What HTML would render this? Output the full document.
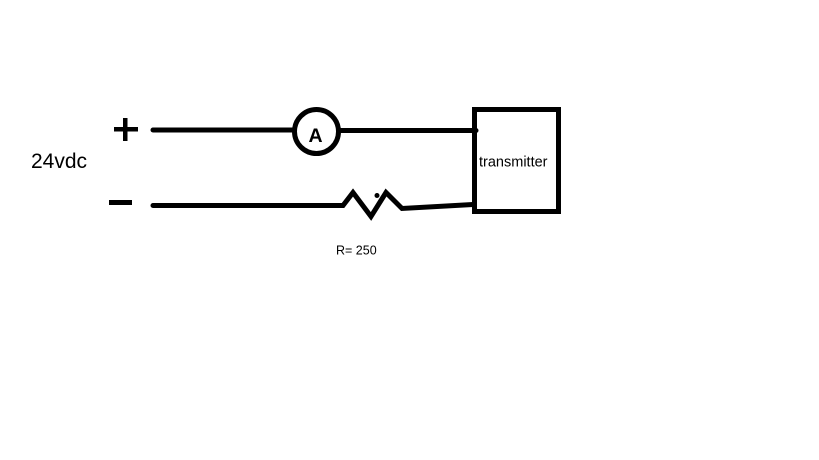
<!DOCTYPE html>
<html>
<head>
<meta charset="utf-8">
<style>
  html, body { margin: 0; padding: 0; background: #fff; }
  body { width: 819px; height: 460px; overflow: hidden; }
  svg { display: block; }
  text { font-family: "Liberation Sans", sans-serif; fill: #000; }
</style>
</head>
<body>
<svg width="819" height="460" viewBox="0 0 819 460" xmlns="http://www.w3.org/2000/svg">
  <rect width="819" height="460" fill="#fff"/>
  <!-- plus sign -->
  <rect x="114" y="127" width="24" height="4.5" fill="#000"/>
  <rect x="123" y="118" width="4.5" height="23" fill="#000"/>
  <!-- minus sign -->
  <rect x="109" y="200" width="23" height="5" fill="#000"/>
  <!-- 24vdc -->
  <text x="31" y="168" font-size="21">24vdc</text>

  <!-- top wire -->
  <line x1="153" y1="130" x2="292" y2="130" stroke="#000" stroke-width="5" stroke-linecap="round"/>
  <circle cx="316.5" cy="131.5" r="22" fill="none" stroke="#000" stroke-width="5"/>
  <text x="315.5" y="142" font-size="19.5" font-weight="bold" text-anchor="middle">A</text>
  <line x1="341" y1="130.5" x2="476" y2="130.5" stroke="#000" stroke-width="5" stroke-linecap="round"/>

  <!-- bottom wire with resistor -->
  <polyline points="153,205.5 343,205.5 353,192.5 371,216.5 386,192.5 402,208.5 473,204.5"
            fill="none" stroke="#000" stroke-width="5" stroke-linejoin="miter" stroke-linecap="round"/>
  <circle cx="377" cy="195.5" r="2.5" fill="#000"/>
  <text x="336" y="254.5" font-size="12.5">R= 250</text>

  <!-- transmitter box -->
  <rect x="474.5" y="109.5" width="84" height="102" fill="none" stroke="#000" stroke-width="5"/>
  <text x="479" y="166.5" font-size="14.5">transmitter</text>
</svg>
</body>
</html>
